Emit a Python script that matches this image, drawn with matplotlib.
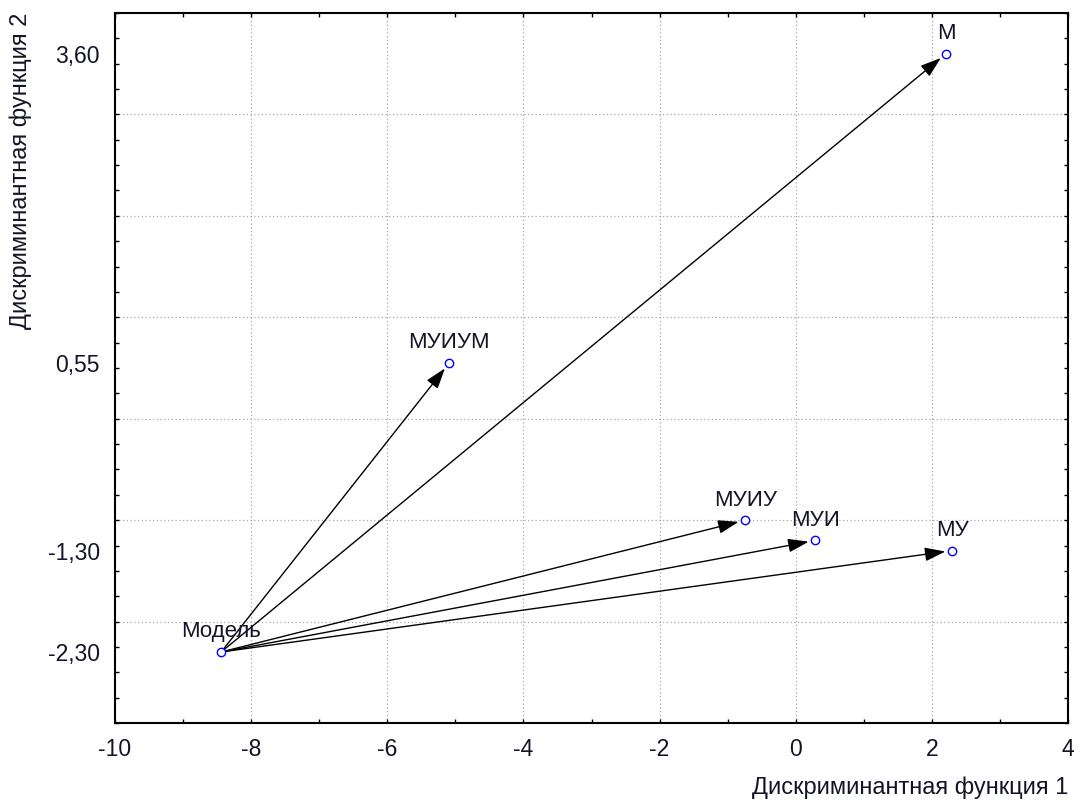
import matplotlib
matplotlib.use("Agg")
import matplotlib.pyplot as plt
import numpy as np

# ---- data ----
origin_name = "Модель"
origin_xy = (-8.44, -2.30)
names = ["М", "МУИУМ", "МУИУ", "МУИ", "МУ"]
xs = [2.21, -5.09, -0.74, 0.29, 2.30]
ys = [3.60, 0.55, -1.00, -1.20, -1.30]

xticks = [-10, -8, -6, -4, -2, 0, 2, 4]
ytick_vals = [3.60, 0.55, -1.30, -2.30]
ytick_labels = ["3,60", "0,55", "-1,30", "-2,30"]
xlabel = "Дискриминантная функция 1"
ylabel = "Дискриминантная функция 2"

plt.rcParams['font.family'] = ['Liberation Sans', 'DejaVu Sans']
txt_color = '#141428'

fig = plt.figure(figsize=(10.79, 8.05), dpi=100)
ax = fig.add_axes([115/1079, 1-723/805, (1068-115)/1079, (723-13)/805])
ax.set_xlim(-10, 4)
ax.set_ylim(-3, 4)

# grid
for gx in xticks[1:-1]:
    ax.axvline(gx, color='#a8a8a8', ls=(0, (1, 2)), lw=0.9, zorder=0)
for gy in range(-2, 4):
    ax.axhline(gy, color='#a8a8a8', ls=(0, (1, 2)), lw=0.9, zorder=0)

# arrows
for n, x, y in zip(names, xs, ys):
    ax.annotate("", xy=(x, y), xytext=origin_xy,
                arrowprops=dict(arrowstyle='-|>,head_length=0.9,head_width=0.3',
                                color='black', lw=1.0, shrinkA=3, shrinkB=5,
                                mutation_scale=14), zorder=2)

# points
allx = [origin_xy[0]] + xs
ally = [origin_xy[1]] + ys
alln = [origin_name] + names
ax.plot(allx, ally, 'o', ls='none', mfc='white', mec='#0000ff', mew=1.0, ms=6, zorder=3)
for n, x, y in zip(alln, allx, ally):
    ax.annotate(n, (x, y), xytext=(0, 14.5), textcoords='offset points',
                ha='center', va='center', fontsize=16, color=txt_color)

# ticks
ax.set_xticks(xticks)
ax.set_xticklabels([str(t) for t in xticks])
ax.set_xticks(np.arange(-9, 4, 2), minor=True)
ax.set_yticks(ytick_vals)
ax.set_yticklabels(ytick_labels)
ax.set_yticks(np.arange(-3, 4.01, 0.25), minor=True)
ax.tick_params(axis='x', which='both', direction='in', top=True, bottom=True,
               length=3, width=1, labelsize=16.5, pad=11, colors='black', labelcolor=txt_color)
ax.tick_params(axis='y', which='major', length=0, labelsize=16.5, pad=11, labelcolor=txt_color)
ax.tick_params(axis='y', which='minor', direction='in', left=True, right=True,
               length=3, width=1, colors='black')
for s in ax.spines.values():
    s.set_linewidth(1.5)
    s.set_color('black')

fig.text(1068/1079, 1-788/805, xlabel, ha='right', va='center', fontsize=17, color=txt_color)
fig.text(21/1079, 1-13/805, ylabel, ha='center', va='top', rotation=90, fontsize=17, color=txt_color)

fig.savefig("out.png", dpi=100)
